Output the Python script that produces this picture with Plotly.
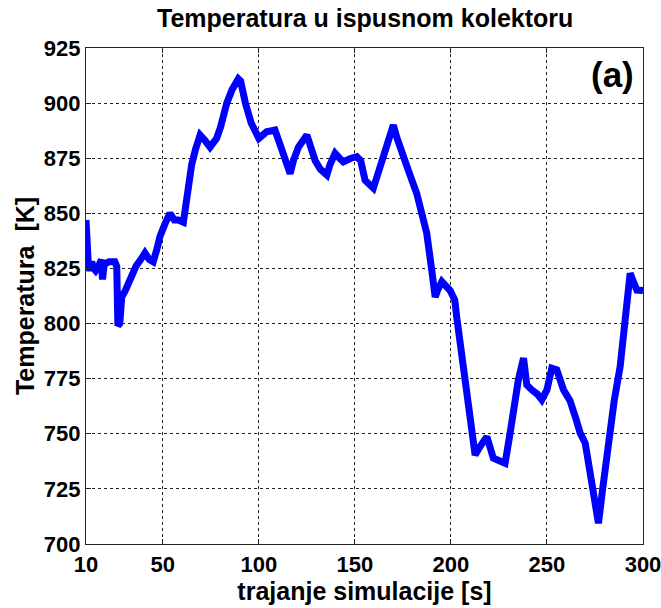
import plotly.graph_objects as go

# Exhaust manifold temperature over the simulation run
time_s = [10, 10.4, 10.8, 11.2, 12.0, 13.0, 14.0, 15.0, 16.5, 18.0, 18.6, 19.5, 22.0,
          25.0, 26.0, 26.6, 27.6, 28.6, 30.5, 33.0, 36.0, 38.5, 40.7, 43.0, 45.0,
          47.0, 48.5, 51.0, 53.7, 56.0, 58.0, 60.7, 62.0, 63.3, 65.0, 67.0, 69.4,
          72.0, 74.6, 78.0, 80.0, 83.3, 86.0, 89.3, 90.5, 93.0, 96.0, 100.0, 102.0,
          104.0, 108.4, 110.0, 113.0, 116.3, 118.0, 120.6, 125.0, 127.0, 129.3,
          132.0, 135.4, 137.0, 139.7, 142.0, 144.0, 148.0, 151.0, 153.0, 155.3,
          159.6, 161.0, 164.0, 167.0, 170.0, 172.0, 174.4, 178.0, 182.2, 185.0,
          187.4, 190.0, 191.8, 193.0, 195.3, 199.6, 202.0, 203.0, 205.0, 207.4,
          210.9, 212.6, 215.0, 218.7, 222.1, 225.0, 228.2, 230.8, 233.0, 235.1,
          237.8, 239.5, 242.0, 245.0, 247.3, 250.0, 252.5, 255.1, 258.6, 262.0,
          265.0, 267.3, 269.9, 272.0, 274.0, 276.8, 279.0, 282.0, 285.0, 288.1,
          290.0, 292.4, 293.3, 295.0, 296.8, 300.0]
temp_K = [847, 838, 841, 827, 824, 828, 825, 824, 826, 829, 820, 827, 828,
          828, 826, 799, 800, 812, 815, 820, 826, 829, 832, 829, 828,
          834, 839.5, 845, 850, 847, 847, 846, 855, 863.6, 872, 879, 885.5,
          883, 880, 884, 889, 900, 906, 911, 910, 900, 891, 884, 886,
          887, 887.8, 884, 875, 868, 874, 880, 885.5, 880, 874,
          870, 867.4, 872, 877.2, 875, 873.4, 875, 875.7, 874, 865,
          861.4, 865, 874, 882, 890, 884, 877, 869, 859, 850,
          841, 824.3, 812, 815, 819, 815, 810.7, 803, 790, 770,
          750.3, 740.4, 744, 748.7, 738.9, 738, 736.6, 750.3, 765, 774.4,
          784.3, 772.2, 770, 768, 765.4, 770, 779.7, 779, 770, 765,
          757, 750.3, 745.8, 735, 722, 709.4, 725, 747.2, 765, 780.5,
          795, 810.7, 822.8, 819, 815.2, 815]

x_ticks = [10, 50, 100, 150, 200, 250, 300]
y_ticks = [700, 725, 750, 775, 800, 825, 850, 875, 900, 925]

title_text = "Temperatura u ispusnom kolektoru"
x_label = "trajanje simulacije [s]"
y_label = "Temperatura  [K]"
panel_tag = "(a)"

FONT = "Liberation Sans, Arial, Helvetica, sans-serif"

fig = go.Figure()
fig.add_trace(go.Scatter(
    x=time_s, y=temp_K, mode="lines",
    line=dict(color="#0000ff", width=7),
    hoverinfo="x+y", showlegend=False,
))

axis_common = dict(
    showline=True, linecolor="#262626", linewidth=1.2, mirror="ticks",
    ticks="inside", ticklen=5, tickcolor="#262626",
    showgrid=True, gridcolor="#222222", gridwidth=1, griddash="3px,3px",
    zeroline=False, automargin=False, ticklabeloverflow="allow",
    tickfont=dict(family=FONT, size=22, color="#000000", weight="bold"),
)

fig.update_xaxes(
    range=[10, 300], tickvals=x_ticks, ticktext=[str(v) for v in x_ticks],
    title=dict(text=x_label, standoff=2,
               font=dict(family=FONT, size=25, color="#000000", weight="bold")),
    **axis_common,
)
fig.update_yaxes(
    range=[700, 925], tickvals=y_ticks, ticktext=[str(v) for v in y_ticks],
    title=dict(text=y_label, standoff=2,
               font=dict(family=FONT, size=25, color="#000000", weight="bold")),
    **axis_common,
)

fig.add_annotation(
    text=title_text, xref="paper", yref="paper", x=0.5, y=1.0, yshift=30,
    showarrow=False, xanchor="center", yanchor="middle",
    font=dict(family=FONT, size=25, color="#000000", weight="bold"),
)
fig.add_annotation(
    text=panel_tag, xref="paper", yref="paper", x=0.988, y=0.99,
    showarrow=False, xanchor="right", yanchor="top",
    font=dict(family=FONT, size=35, color="#000000", weight="bold"),
)

fig.update_layout(
    width=661, height=608,
    margin=dict(l=86, r=18, t=48, b=64),
    paper_bgcolor="#ffffff", plot_bgcolor="#ffffff",
)

fig.write_html("out.html")
